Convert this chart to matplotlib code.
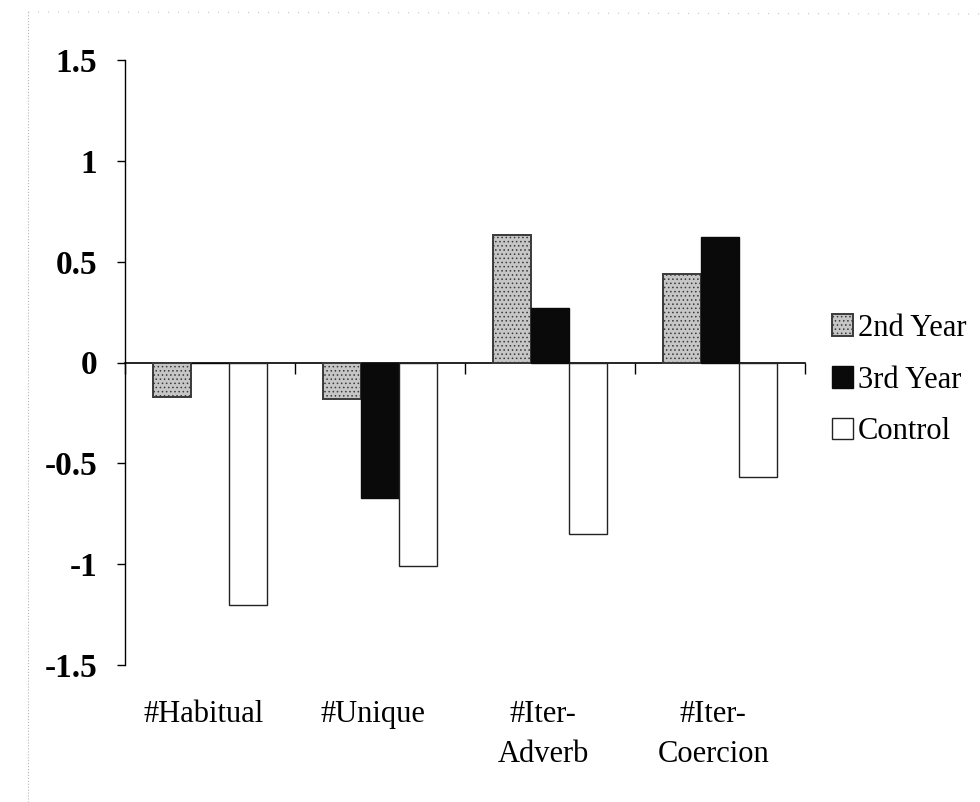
import matplotlib
matplotlib.use("Agg")
import matplotlib.pyplot as plt
import numpy as np
from matplotlib.lines import Line2D

# Valeurs
categories = ["#Habitual", "#Unique", "#Iter-\nAdverb", "#Iter-\nCoercion"]
second_year = [-0.17, -0.18, 0.63, 0.44]
third_year = [0.0, -0.67, 0.27, 0.62]
control = [-1.20, -1.01, -0.85, -0.57]
series_names = ["2nd Year", "3rd Year", "Control"]
y_ticks = [-1.5, -1, -0.5, 0, 0.5, 1, 1.5]
y_tick_labels = ["-1.5", "-1", "-0.5", "0", "0.5", "1", "1.5"]

plt.rcParams["font.family"] = ["Liberation Serif", "DejaVu Serif"]
plt.rcParams["hatch.color"] = "#8a8a8a"
plt.rcParams["hatch.linewidth"] = 0.6

fig = plt.figure(figsize=(9.8, 8.02), dpi=100)
ax = fig.add_axes([125 / 980, 1 - 665 / 802, 680 / 980, 605 / 802])

x = np.arange(len(categories))
w = 0.225
ax.bar(x - w, second_year, w, color="#c6c6c6", edgecolor="#3a3a3a",
       linewidth=1.4, hatch="....", label=series_names[0], zorder=3)
ax.bar(x, third_year, w, color="#0a0a0a", edgecolor="#0a0a0a",
       linewidth=1.0, label=series_names[1], zorder=3)
ax.bar(x + w, control, w, color="white", edgecolor="#222222",
       linewidth=1.0, label=series_names[2], zorder=3)

ax.set_xlim(-0.5, len(categories) - 0.5)
ax.set_ylim(-1.5, 1.5)

# axe des x sur la ligne zéro, graduations aux limites des catégories
ax.spines["top"].set_visible(False)
ax.spines["right"].set_visible(False)
ax.spines["bottom"].set_position(("data", 0))
ax.spines["bottom"].set_linewidth(1.2)
ax.spines["left"].set_linewidth(1.0)
ax.set_xticks(np.arange(-0.5, len(categories), 1.0))
ax.set_xticklabels([])
ax.tick_params(axis="x", direction="out", length=8, width=1.0)

ax.set_yticks(y_ticks)
ax.set_yticklabels(y_tick_labels, fontsize=24, fontweight="bold")
ax.tick_params(axis="y", direction="out", length=6, width=1.0, pad=14)

# libellés des catégories en bas de la zone de tracé
for xi, name in zip(x, categories):
    ax.text(xi - 0.04, -0.058, name, transform=ax.get_xaxis_transform(),
            ha="center", va="top", fontsize=22, linespacing=1.5)

fig.legend(loc="center left", bbox_to_anchor=(832 / 980, 1 - 380 / 802),
           frameon=False, fontsize=22, handlelength=0.7, handleheight=0.7,
           handletextpad=0.15, labelspacing=0.75, borderpad=0, borderaxespad=0)

# bordure pointillée très pâle de la zone du graphique (scan)
fig.add_artist(Line2D([28 / 980, 28 / 980], [0, 1 - 12 / 802],
                      transform=fig.transFigure, color="#b5b5b5",
                      linewidth=0.8, linestyle=":"))
fig.add_artist(Line2D([28 / 980, 1], [1 - 12 / 802, 1 - 14 / 802],
                      transform=fig.transFigure, color="#c8c8c8",
                      linewidth=0.8, linestyle=(0, (1, 8))))

fig.savefig("out.png", dpi=100)
plt.close()
